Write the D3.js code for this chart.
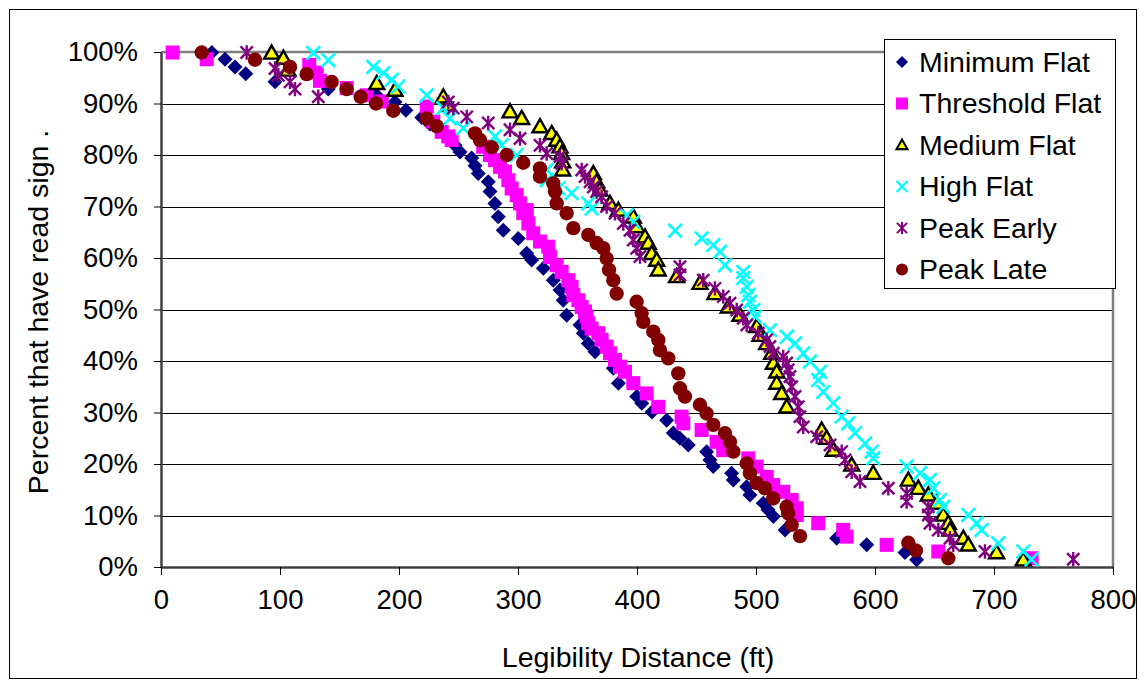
<!DOCTYPE html>
<html><head><meta charset="utf-8">
<script src="https://cdn.jsdelivr.net/npm/d3@7"></script>
<style>body{margin:0;background:#fff}svg{display:block}text{font-family:"Liberation Sans",Arial,sans-serif;fill:#000}</style>
</head><body><svg id="c" width="1139" height="682"></svg>
<script>
// ---- data: [legibility distance ft, percent that have read sign] ----
const minimumFlat = [[42.7,99.9],[53.8,98.6],[62.2,97.1],[71.2,95.8],[95.8,94.2],[140.6,92.8],[181.2,91.6],[196.6,90.3],[205.8,88.7],[219.1,87.3],[225.9,86.0],[234.4,84.7],[241.1,83.3],[247,81.9],[251.3,80.6],[261.1,79.4],[263.9,77.9],[266.6,76.4],[275,74.8],[276.5,72.9],[280.6,70.6],[283.4,68.0],[287.6,65.4],[300.2,63.8],[307.3,60.9],[311.5,59.6],[321.3,58.0],[329.6,55.7],[335.3,53.8],[338.0,51.8],[340.9,48.9],[352.1,47.0],[354.9,45.4],[359.1,43.4],[364.7,41.8],[380.1,38.6],[384.4,35.7],[399.8,33.1],[404,31.8],[412.6,30.1],[424.9,28.5],[430.5,26.0],[436.1,25.0],[443.1,23.7],[458.5,22.4],[461.3,20.8],[464.1,19.5],[479.5,18.2],[480.9,16.9],[492.2,15.6],[494.9,14.0],[506.1,12.4],[510.1,11.1],[514.6,9.8],[524.4,7.2],[567.8,5.6],[593.0,4.3],[625.2,2.8],[635.0,1.4]];
const thresholdFlat = [[9.8,99.9],[38.4,98.6],[124.6,97.5],[130.8,96.0],[133.6,94.4],[156.0,93.0],[172.9,91.6],[185.5,90.4],[223.3,89.4],[228.8,86.5],[235.9,84.5],[241.4,83.6],[244.3,82.9],[270.8,81.6],[276.5,80.0],[280.7,79.0],[284.9,77.7],[289.1,76.8],[291.9,75.1],[294.7,73.5],[298.9,72.2],[301.7,70.6],[307.3,69.3],[304.4,68.7],[308.7,66.7],[312.8,64.8],[318.5,63.2],[325.4,62.2],[326.9,60.2],[332.5,58.6],[336.7,57.3],[342.3,55.7],[345.1,54.4],[346.5,52.8],[350.7,51.8],[353.5,50.5],[356.3,49.6],[357.7,48.6],[359.1,47.3],[361.9,46.3],[367.5,45.4],[370.3,44.1],[374.5,42.8],[377.3,41.5],[381.5,40.2],[385.7,38.9],[389.9,37.9],[396.9,35.7],[408.1,33.7],[417.9,31.1],[437.5,29.2],[438.9,27.9],[454.3,26.6],[466.9,24.3],[472.5,22.7],[493.5,21.1],[500.6,19.5],[509.0,17.5],[514.5,15.9],[522.9,14.6],[530.0,13.0],[534.2,11.4],[534.2,10.1],[552.3,8.5],[573.3,7.2],[576.2,5.9],[609.8,4.3],[653.2,3.0],[731.6,1.7]];
const mediumFlat = [[93.0,99.8],[102.8,98.8],[106.7,96.5],[181.3,93.9],[196.6,92.6],[237.2,91.3],[241.4,89.7],[293.3,88.4],[303.1,87.1],[318.5,85.5],[328.3,84.2],[332.5,82.9],[335.3,81.6],[336.7,80.3],[337.6,78.7],[337.6,77.1],[363.3,76.4],[366.1,74.8],[368.9,73.2],[377.3,70.6],[384.3,69.3],[396.9,68.0],[399.7,66.1],[406.7,64.1],[409.5,62.9],[412.3,60.9],[416.5,59.6],[417.9,57.7],[433.3,56.4],[452.9,55.1],[465.5,53.1],[476.7,50.5],[486.5,48.9],[500.6,46.7],[503.4,45.0],[509.0,43.4],[513.2,41.5],[514.6,39.6],[517.4,37.9],[517.4,35.7],[521.6,33.7],[525.8,31.1],[555.2,26.6],[559.4,25.0],[565.0,22.7],[580.4,19.8],[598.5,18.2],[628.0,16.9],[636.4,15.3],[644.8,14.0],[651.8,12.4],[657.4,10.1],[661.6,8.5],[663.0,7.2],[674.2,5.6],[678.4,4.3],[702.2,2.8],[724.6,1.4]];
const highFlat = [[128.0,99.8],[140.6,98.4],[178.4,97.1],[186.8,95.9],[193.9,94.6],[199.4,93.3],[223.3,91.6],[237.2,89.1],[242.8,87.1],[254.0,85.2],[280.7,83.6],[286.3,81.9],[298.9,80.0],[324.1,77.1],[324.1,75.1],[333.9,73.5],[345.1,72.6],[359.1,70.6],[361.9,69.6],[391.3,68.3],[396.9,67.0],[432.0,65.3],[454.3,63.8],[464.1,62.5],[469.7,61.2],[473.9,58.6],[489.3,57.3],[489.3,56.1],[492.2,54.4],[493.5,52.8],[494.9,51.5],[497.7,49.9],[499.1,48.6],[511.7,46.0],[525.8,44.7],[532.7,43.4],[539.7,41.5],[545.4,39.9],[553.8,37.9],[552.3,36.3],[556.5,34.0],[564.9,31.8],[572.0,29.2],[577.5,27.9],[583.2,26.0],[591.6,24.0],[597.2,22.4],[598.5,21.1],[626.6,19.5],[637.8,18.2],[646.2,16.9],[649.0,15.3],[654.6,13.0],[657.4,11.7],[678.4,10.1],[685.4,8.5],[689.6,7.2],[703.6,4.6],[724.6,3.0],[731.6,1.5]];
const peakEarly = [[72.0,99.9],[95.8,96.8],[98.6,95.5],[108.4,94.2],[112.6,92.8],[132.2,91.3],[241.4,90.3],[245.6,89.1],[256.9,87.4],[275.0,86.2],[293.3,84.9],[301.7,83.2],[318.5,81.9],[324.1,80.3],[335.3,79.7],[336.7,78.4],[353.5,77.1],[356.3,75.8],[360.5,74.8],[363.3,73.8],[366.1,72.9],[370.3,71.9],[374.5,70.0],[381.5,68.7],[388.5,66.7],[394.1,65.4],[396.9,63.5],[399.7,61.9],[402.5,60.3],[436.1,58.3],[436.1,56.7],[455.7,55.7],[465.5,54.1],[472.5,52.5],[478.1,51.2],[483.8,49.9],[489.3,48.3],[492.2,47.0],[501.9,45.4],[508.9,44.1],[511.7,42.8],[514.5,41.5],[522.9,40.8],[525.8,39.6],[527.1,38.3],[528.5,37.0],[530.0,35.0],[532.8,33.1],[535.5,31.1],[536.9,29.2],[539.7,27.2],[551.0,25.3],[562.2,23.7],[572.0,22.4],[574.8,20.8],[580.4,18.5],[587.4,16.6],[611.2,15.3],[626.6,14.3],[626.6,12.7],[644.8,11.7],[644.8,10.1],[646.2,8.5],[653.2,7.2],[663.0,5.6],[665.8,4.3],[692.4,3.0],[766.6,1.5]];
const peakLate = [[34.2,99.9],[79.0,98.5],[108.4,97.1],[122.4,95.7],[143.4,94.2],[156.0,92.8],[167.8,91.3],[180.7,90.0],[195.2,88.6],[223.3,87.1],[231.7,85.6],[263.9,84.2],[268.1,82.9],[277.9,81.5],[290.5,80.0],[304.4,78.5],[318.5,77.4],[318.5,75.8],[329.6,74.5],[331.1,72.9],[332.5,70.6],[340.9,68.7],[346.5,65.8],[359.1,64.5],[366.1,62.9],[371.7,61.9],[374.5,59.9],[376.5,57.7],[380.1,55.7],[382.9,53.1],[399.7,51.5],[403.9,49.3],[405.3,47.6],[413.7,45.7],[417.9,44.1],[419.3,42.1],[426.3,40.5],[434.7,37.6],[436.1,34.7],[440.3,33.1],[452.9,31.5],[458.5,29.8],[464.1,27.6],[473.9,26.0],[478.1,24.3],[480.9,22.4],[492.2,20.1],[494.9,18.2],[500.6,16.3],[507.5,15.3],[514.5,13.3],[525.8,11.7],[527.1,10.4],[530.0,8.2],[537.0,6.0],[628.0,4.7],[634.4,3.2],[661.6,1.7]];

const seriesNames = ["Minimum Flat","Threshold Flat","Medium Flat","High Flat","Peak Early","Peak Late"];
const xTicks = [0,100,200,300,400,500,600,700,800];
const yTicks = [0,10,20,30,40,50,60,70,80,90,100];
const xTitle = "Legibility Distance (ft)";
const yTitle = "Percent that have read sign .";

// ---- styling ----
const styles = [
  {shape:"diamond",  fill:"#000080", stroke:"none"},
  {shape:"square",   fill:"#FF00FF", stroke:"none"},
  {shape:"triangle", fill:"#FFFF00", stroke:"#000"},
  {shape:"x",        fill:"none",    stroke:"#00FFFF"},
  {shape:"star",     fill:"none",    stroke:"#800080"},
  {shape:"circle",   fill:"#800000", stroke:"none"}
];
const seriesData = [minimumFlat, thresholdFlat, mediumFlat, highFlat, peakEarly, peakLate];

function markerPath(shape, s){
  switch(shape){
    case "diamond": return `M0,${-s}L${s},0L0,${s}L${-s},0Z`;
    case "square": return `M${-s},${-s}H${s}V${s}H${-s}Z`;
    case "triangle": return `M0,${-s}L${s},${s*0.75}L${-s},${s*0.75}Z`;
    case "x": return `M${-s},${-s}L${s},${s}M${s},${-s}L${-s},${s}`;
    case "star": return `M${-s*0.85},${-s*0.85}L${s*0.85},${s*0.85}M${s*0.85},${-s*0.85}L${-s*0.85},${s*0.85}M0,${-s}V${s}`;
    case "circle": return `M${s},0A${s},${s} 0 1,1 ${-s},0A${s},${s} 0 1,1 ${s},0Z`;
  }
}
const plotSize = {diamond:7.5, square:7, triangle:7.5, x:6.8, star:7.2, circle:7.2};
const legSize  = {diamond:6, square:6, triangle:5.5, x:5.5, star:6, circle:6};
const strokeW  = {diamond:0, square:0, triangle:2.4, x:2.6, star:2.4, circle:0};

const svg = d3.select("#c");
const L=161, R=1113, T=52, B=567;
const x = d3.scaleLinear().domain([0,800]).range([L,R]);
const y = d3.scaleLinear().domain([0,100]).range([B,T]);

// outer chart border
svg.append("rect").attr("x",9.5).attr("y",9.5).attr("width",1127).attr("height",669)
  .attr("fill","#fff").attr("stroke","#000").attr("stroke-width",1);

// gridlines
svg.append("g").selectAll("line").data(yTicks.filter(d=>d>0&&d<100)).join("line")
  .attr("x1",L).attr("x2",R).attr("y1",d=>Math.round(y(d))+0.5).attr("y2",d=>Math.round(y(d))+0.5)
  .attr("stroke","#000").attr("stroke-width",1);

// plot area border (top & right gray)
svg.append("path").attr("d",`M${L},${T}H${R}V${B}`).attr("fill","none").attr("stroke","#808080").attr("stroke-width",2.5);

// axes
const yAxis = d3.axisLeft(y).tickValues(yTicks).tickFormat(d=>d+"%").tickSize(7).tickPadding(16).tickSizeOuter(0);
const gy = svg.append("g").attr("transform",`translate(${L},0)`).call(yAxis);
gy.select(".domain").attr("stroke","#404040").attr("stroke-width",2.5);
gy.selectAll(".tick line").attr("stroke","#000").attr("stroke-width",1);
gy.selectAll(".tick text").attr("font-size",27.5).attr("font-family","Liberation Sans, Arial, sans-serif").attr("fill","#000");

const xAxis = d3.axisBottom(x).tickValues(xTicks).tickSize(8).tickPadding(14).tickSizeOuter(0);
const gx = svg.append("g").attr("transform",`translate(0,${B})`).call(xAxis);
gx.select(".domain").attr("stroke","#404040").attr("stroke-width",2.5);
gx.selectAll(".tick line").attr("stroke","#000").attr("stroke-width",1);
gx.selectAll(".tick text").attr("font-size",27.5).attr("font-family","Liberation Sans, Arial, sans-serif").attr("fill","#000");

// titles
svg.append("text").attr("x",(L+R)/2+1).attr("y",667).attr("text-anchor","middle").attr("font-size",28.5).text(xTitle);
svg.append("text").attr("transform","translate(48,312) rotate(-90)").attr("text-anchor","middle").attr("font-size",28.5).text(yTitle);

// markers
seriesData.forEach((data,i)=>{
  const st = styles[i];
  svg.append("g").selectAll("path").data(data).join("path")
    .attr("transform",d=>`translate(${x(d[0])},${y(d[1])})`)
    .attr("d",markerPath(st.shape, plotSize[st.shape]))
    .attr("fill",st.fill).attr("stroke",st.stroke).attr("stroke-width",strokeW[st.shape]);
});

// legend
const lg = svg.append("g");
lg.append("rect").attr("x",884.5).attr("y",39.5).attr("width",231).attr("height",249)
  .attr("fill","#fff").attr("stroke","#000").attr("stroke-width",1);
seriesNames.forEach((name,i)=>{
  const st = styles[i];
  const cy = 62 + i*41.5;
  lg.append("path").attr("transform",`translate(902,${cy})`)
    .attr("d",markerPath(st.shape, legSize[st.shape]))
    .attr("fill",st.fill).attr("stroke",st.stroke).attr("stroke-width",strokeW[st.shape]*0.85);
  lg.append("text").attr("x",919).attr("y",cy+9.5).attr("font-size",28.5).text(name);
});
</script></body></html>
